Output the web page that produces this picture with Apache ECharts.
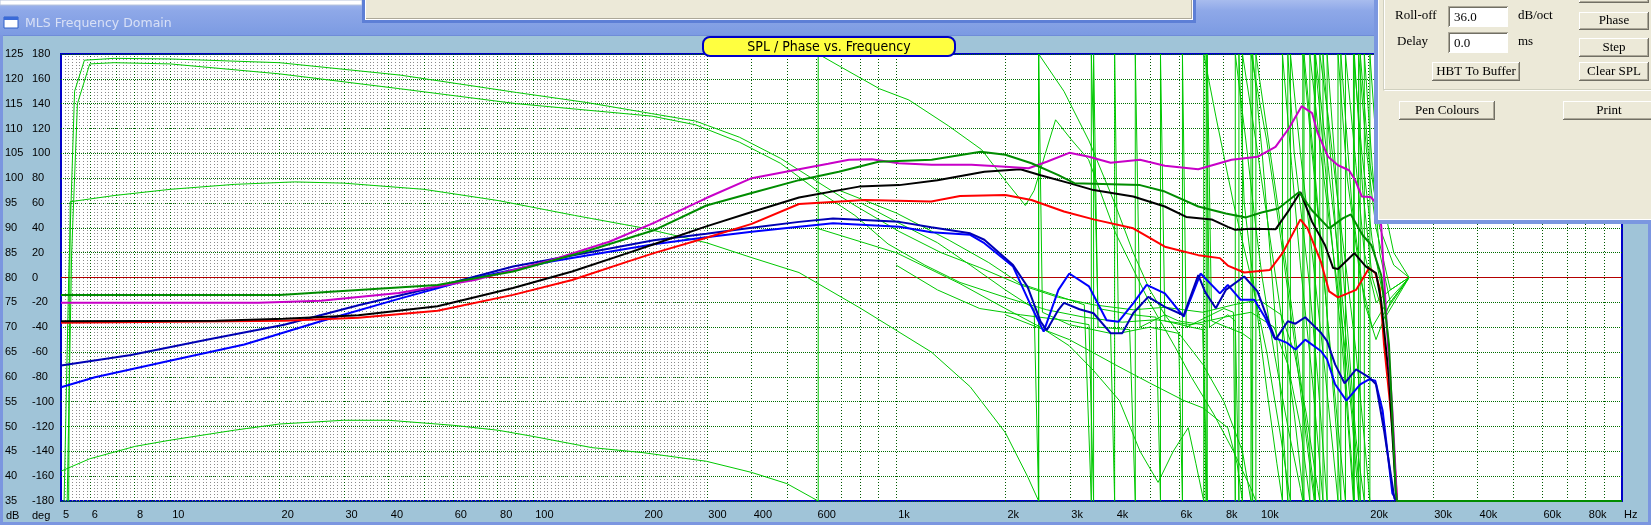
<!DOCTYPE html>
<html>
<head>
<meta charset="utf-8">
<script src="https://cdn.jsdelivr.net/npm/echarts@6/dist/echarts.min.js"></script>
<style>
html,body{margin:0;padding:0;background:#A0C4D8;}
#c{width:1651px;height:525px;}
</style>
</head>
<body>
<div id="c"></div>
<script>
// ---------- axis ticks ----------
const tickFreqs = [5,6,8,10,20,30,40,60,80,100,200,300,400,600,1000,2000,3000,4000,6000,8000,10000,20000,30000,40000,60000,80000,100000];
const tickLabels = ['5','6','8','10','20','30','40','60','80','100','200','300','400','600','1k','2k','3k','4k','6k','8k','10k','20k','30k','40k','60k','80k','Hz'];

// ---------- SPL curves [Hz, dB] ----------
const splMagenta = [[5,74.9],[10,74.9],[17.5,74.9],[26,75.3],[42.6,76.9],[69,79.5],[112,83.5],[162,87.2],[215,91],[300,96],[400,100],[540,101.8],[650,102.9],[741,103.7],[857,103.8],[1016,103],[1253,102.7],[1614,102.7],[2000,102.3],[2318,102],[2600,103.3],[3000,105.1],[3400,104.3],[3900,103.1],[4700,103.7],[4950,103.3],[5500,102.5],[6800,101.8],[8400,103.7],[9900,104.3],[11100,106.3],[12100,110.1],[13100,114.5],[14000,113.1],[14500,109.1],[15500,104.3],[16500,102.6],[17700,101.6],[18400,99.6],[19200,96.3],[20300,96.2],[21000,95],[21700,90.5],[22500,69.9],[23300,53.2],[24000,35],[100000,35]];
const splGreen = [[5,76.5],[20,76.5],[33,77.5],[54.5,78.5],[88,81.2],[143,85.5],[215,89.5],[300,94.5],[400,97],[540,99.6],[695,101.3],[895,103.3],[1253,103.7],[1710,105.3],[2000,104.7],[2360,103],[2800,100.6],[3100,99],[4700,98.6],[5500,97.3],[6800,94.3],[8100,92.9],[9200,92.1],[10160,93.1],[11300,93.9],[12900,97.2],[14000,93.5],[15600,89.9],[17000,91.9],[17900,92.7],[19300,88.5],[20400,86.5],[21700,80.5],[22800,66.5],[23800,37.2],[24000,35],[100000,35]];
const splBlack = [[5,71.2],[13.4,71.3],[20.6,71.7],[33,72.4],[54.5,74.2],[88,77.9],[128,81.2],[182,84.9],[215,86.7],[300,90.3],[400,93.2],[540,96.1],[790,98.3],[1020,98.6],[1300,99.6],[1750,101.3],[2200,101.8],[2500,100.6],[3000,99],[3500,97.6],[4500,96.3],[5500,94.3],[6300,92.2],[7400,91.7],[8200,90.2],[8600,89.6],[9500,89.8],[11100,89.7],[12000,93.2],[13000,97.2],[14000,91.2],[15200,86.5],[16000,81.9],[16500,81.7],[18300,84.9],[19700,82.2],[21000,80.9],[21700,75.2],[22800,59.9],[23800,37.2],[24000,35],[100000,35]];
const splRed = [[5,70.9],[20.6,71.3],[33,71.9],[54.5,73.3],[88,76.5],[128,79.5],[182,83.2],[215,84.9],[300,88],[400,90.8],[540,94.8],[820,95.6],[1250,95.3],[1500,96.4],[2000,96.6],[2360,95.6],[2900,93.3],[3500,91.7],[4500,89.9],[5500,86.2],[6800,84.5],[7800,83.9],[8200,82.4],[9100,81],[10700,81.5],[11600,84.9],[13000,91.7],[13600,89.9],[14800,83.2],[15600,77.2],[16500,76],[18500,77.5],[20100,81.9],[20900,80.9],[21500,77.9],[22100,66.5],[23300,49.9],[24000,35],[100000,35]];
const splNavy = [[5,62.3],[7.8,64.4],[12.7,67.5],[20.6,70.5],[33,74.4],[54.5,78.2],[88,82.2],[143,85.1],[215,87.5],[300,88.8],[400,90],[540,91.2],[670,91.9],[1020,91.2],[1250,90.1],[1600,88.9],[1750,87.6],[2100,82.5],[2300,78.2],[2500,71.1],[2600,69.4],[2800,73.5],[2900,74.9],[3200,73.6],[3500,72.8],[3900,68.8],[4200,68.8],[4500,72.8],[4950,76.1],[5500,74.1],[6200,72.4],[6800,80.5],[7100,77.1],[7600,73.8],[8100,77.5],[9100,80.2],[9900,77.2],[10700,70.5],[11100,67.5],[12000,71.2],[12600,70.7],[13400,72],[14800,68.9],[15400,67.2],[16200,62.5],[17200,58.7],[18500,61.5],[20100,59.9],[21000,58.5],[22100,49.2],[23600,35.5],[24000,35],[100000,35]];
const splBlue = [[5,57.9],[6.2,59.9],[9.9,63.2],[16,66.5],[26,71.2],[42.6,75.7],[69,79.9],[112,83.2],[162,85.2],[215,86.7],[300,88.1],[400,89.2],[540,90.2],[670,90.9],[1020,90.2],[1250,89.1],[1600,88.6],[1750,86.9],[2100,82.2],[2360,74.1],[2550,69.1],[2800,77.5],[3000,80.8],[3400,78.2],[3800,71.4],[4100,71.1],[4500,74.8],[4900,78.5],[5500,76.8],[6200,72.1],[6900,80.8],[7800,76.8],[8200,78.5],[8900,75.5],[9700,75.5],[10400,71.9],[11000,67.9],[11900,66.9],[12600,65.5],[13400,67.5],[14800,65.2],[15400,63.5],[16200,58.5],[17400,55.2],[19000,58.5],[20100,59.5],[20900,59.2],[21900,53.2],[23300,36.5],[24000,35],[100000,35]];

// ---------- Phase curves [Hz, deg] ----------
const phaseA = [[5.1,-180],[5.25,0],[5.45,150],[5.8,175],[7,176.5],[10,176],[20,173],[43,163],[90,149],[140,141],[212,132],[280,126],[370,113],[480,96],[600,78],[770,58],[1020,37],[1330,20],[1700,8],[2200,-6],[2800,-16],[3500,-22],[4500,-26],[5500,-24],[7000,-28],[8500,-22],[10000,-18],[11500,-30],[12500,-60],[13500,-110],[14500,-170],[14700,-180],[14700,180],[15500,130],[16500,60],[17500,0],[18500,-60],[19500,-130],[20200,-180],[20200,180],[21000,110],[22000,60],[23500,20],[25900,0]];
const phaseB = [[5.2,-180],[5.35,20],[5.55,140],[6,172],[7,173],[10,172],[20,164],[43,152],[90,140],[212,130],[280,123],[370,109],[480,92],[600,71],[770,50],[950,27],[1200,10],[1500,-4],[2000,-16],[2600,-26],[3300,-32],[4200,-36],[5200,-34],[6500,-38],[8000,-32],[9500,-28],[11000,-40],[12000,-70],[13000,-120],[13800,-180],[13800,180],[14800,100],[16000,20],[17000,-40],[18000,-110],[18800,-180],[18800,180],[19800,100],[21000,40],[23000,-10],[25900,0]];
const phaseC = [[5.25,-180],[5.3,61],[7,66],[10,71],[15,75],[22,77],[30,76],[50,71],[80,62],[130,50],[200,40],[300,28],[400,16],[540,4],[800,-25],[1250,-60],[1600,-88],[2000,-125],[2300,-160],[2470,-180],[2470,180],[2900,150],[3400,110],[4000,60],[4500,20],[5000,-10],[5500,-30],[6200,-50],[7000,-70],[8000,-100],[9000,-140],[9500,-180],[9500,180],[10500,110],[11500,30],[12500,-50],[13500,-130],[14200,-180],[14200,180],[15200,90],[16000,20],[17000,-60],[17800,-140],[18200,-180],[18200,180],[19200,100],[20500,30],[22500,-30],[25900,0]];
const phaseD = [[5,-156],[6,-146],[8,-136],[10,-131],[15,-123],[20,-118],[30,-115],[40,-115],[60,-119],[80,-123],[100,-128],[145,-137],[200,-141],[300,-148],[400,-157],[500,-166],[610,-180],[610,180],[700,170],[900,152],[1084,143],[1396,122],[1720,103],[2000,78],[2270,58],[2400,70],[2750,127],[3040,111],[3390,95],[4020,36],[4950,-18],[5870,-56],[6500,-80],[7500,-110],[8500,-140],[9500,-170],[9800,-180],[9800,180],[10500,120],[11500,40],[12500,-40],[13500,-120],[14300,-180],[14300,180],[15500,90],[16500,20],[17500,-60],[18500,-140],[19000,-180],[19000,180],[20000,100],[21500,40],[23500,10],[25900,0]];
const phaseE = [[600,40],[1000,20],[1500,-5],[2000,-25],[2500,-40],[3000,-55],[3500,-75],[4120,-99],[4700,-140],[5270,-165],[5800,-140],[6380,-121],[6700,-150],[7040,-180],[7040,180],[7600,130],[8500,60],[9500,0],[10500,-60],[11500,-130],[12200,-180],[12200,180],[13000,100],[14000,20],[15000,-60],[16000,-140],[16500,-180],[16500,180],[17500,80],[19000,0],[20500,-40],[22500,-20],[25900,0]];
const phaseG = [[700,70],[1000,52],[1400,30],[1800,12],[2200,-5],[2800,-15],[3300,-22],[3450,-180],[3450,180],[3600,-25],[4500,-30],[5200,-32],[5350,-180],[5350,180],[5500,-35],[6500,-40],[7000,-42],[7150,-180],[7150,180],[7300,-40],[8200,-30],[8600,-35],[8800,-180],[8800,180],[9100,60],[9800,-20],[10500,-90],[11200,-150],[11600,-180],[11600,180],[12300,90],[13000,10],[14000,-80],[14800,-160],[15000,-180],[15000,180],[15900,80],[16800,-20],[17700,-120],[18300,-180],[18300,180],[19300,70],[20500,0],[22000,-30],[25900,0]];
const phaseH = [[800,60],[1000,45],[1300,28],[1600,10],[2000,-10],[2400,-25],[2470,-180],[2470,180],[2530,-28],[3000,-38],[3900,-45],[4000,-180],[4000,180],[4100,-45],[5000,-40],[6000,-45],[6150,-180],[6150,180],[6300,-40],[8000,-25],[8500,-28],[8600,-180],[8600,180],[9200,110],[9800,40],[10200,0],[11000,-60],[12000,-120],[13000,-170],[13200,-180],[13200,180],[14000,100],[15000,10],[15400,-30],[16500,-120],[17300,-180],[17300,180],[18500,90],[19500,20],[21000,-20],[23000,-10],[25900,0]];
const phaseI = [[1000,10],[1300,-10],[1700,-25],[2200,-30],[3000,-35],[3400,-38],[3500,-180],[3500,180],[3600,-40],[4400,-42],[4560,-180],[4560,180],[4700,-40],[5500,-30],[6000,-35],[7000,-38],[7200,-180],[7200,180],[7400,-35],[9000,-45],[9500,-50],[9600,-180],[9600,180],[10200,100],[11000,-20],[11500,-100],[12000,-180],[12000,180],[12500,100],[13700,0],[14500,-80],[15400,-180],[15400,180],[16500,60],[17500,-40],[18500,-130],[19500,-180],[19500,180],[20500,90],[21500,20],[23000,-20],[25900,0]];
const phaseJ = [[2000,-30],[3000,-50],[4000,-70],[5000,-85],[6200,-99],[7000,-105],[8200,-121],[8700,-150],[9000,-180],[9000,180],[9800,110],[10500,50],[11500,-30],[12500,-110],[13300,-180],[13300,180],[14300,80],[15300,-20],[16300,-120],[16800,-180],[16800,180],[18000,60],[19500,-20],[21000,-50],[23000,-20],[25900,0]];

const phaseCurves = [phaseA, phaseB, phaseC, phaseD, phaseE, phaseG, phaseH, phaseI, phaseJ];
const splCurves = [
  {data: splBlue,    color: '#0000FF'},
  {data: splNavy,    color: '#0000B4'},
  {data: splRed,     color: '#FF0000'},
  {data: splBlack,   color: '#000000'},
  {data: splMagenta, color: '#C800C8'},
  {data: splGreen,   color: '#008C00'}
];

// ---------- helpers ----------
const L = Math.log10;
const toXY = arr => arr.map(p => [L(p[0]), p[1]]);

// grid lines (texture + decade lines)
const majorGrid = [];
for (let k = 0; k <= 4; k++) for (let m = 1; m <= 9; m++) {
  const f = m * Math.pow(10, k);
  if (f > 5 && f < 100000) majorGrid.push(L(f));
}
const minorGrid = [];
for (let v = L(5) + 1/130; v <= L(300); v += 1/130) minorGrid.push(v);

const markData = [].concat(
  minorGrid.map(v => ({xAxis: v, lineStyle: {color: '#8C8C8C', type: [1, 2], width: 1}})),
  majorGrid.map(v => ({xAxis: v, lineStyle: {color: '#005A00', type: [1, 2], width: 1}})),
  [{yAxis: 0, lineStyle: {color: '#B40000', type: 'solid', width: 1}}]
);

const series = [];
phaseCurves.forEach((pc, i) => {
  const s = {
    type: 'line', data: toXY(pc), yAxisIndex: 1, showSymbol: false, symbol: 'none',
    lineStyle: {color: '#00C800', width: 1}, itemStyle: {color: '#00C800'},
    z: 10, silent: true, animation: false
  };
  if (i === 0) {
    s.markLine = {silent: true, symbol: ['none', 'none'], label: {show: false}, animation: false,
      emphasis: {disabled: true}, data: markData};
  }
  series.push(s);
});
splCurves.forEach(c => {
  series.push({
    type: 'line', data: toXY(c.data), yAxisIndex: 0, showSymbol: false, symbol: 'none',
    lineStyle: {color: c.color, width: 2}, itemStyle: {color: c.color},
    z: 11, silent: true, animation: false
  });
});

// ---------- window decorations ----------
const G = [];
function rect(x, y, w, h, fill, z, extra) {
  const e = {type: 'rect', shape: {x: x, y: y, width: w, height: h}, style: {fill: fill}, z: z || 0, silent: true};
  if (extra) { if (extra.r) e.shape.r = extra.r; if (extra.stroke) { e.style.stroke = extra.stroke; e.style.lineWidth = extra.lw || 1; } }
  G.push(e);
}
function text(x, y, s, font, fill, align, z) {
  G.push({type: 'text', x: x, y: y, z: z || 0, silent: true,
    style: {text: s, font: font, fill: fill || '#000', align: align || 'left', verticalAlign: 'middle'}});
}
function line(x1, y1, x2, y2, stroke, z) {
  G.push({type: 'line', shape: {x1: x1, y1: y1, x2: x2, y2: y2}, style: {stroke: stroke, lineWidth: 1}, z: z || 0, silent: true});
}
const serif = '13px "Liberation Serif", "Times New Roman", serif';
function button(x, y, w, h, label, z) {
  rect(x, y, w, h, '#716F64', z);
  rect(x, y, w - 1, h - 1, '#FFFFFF', z);
  rect(x + 1, y + 1, w - 2, h - 2, '#ACA899', z);
  rect(x + 1, y + 1, w - 3, h - 3, '#ECE9D8', z);
  if (label) text(x + w / 2, y + h / 2, label, serif, '#000', 'center', z);
}
function textbox(x, y, w, h, val, z) {
  rect(x, y, w, h, '#ACA899', z);
  rect(x + 1, y + 1, w - 1, h - 1, '#FFFFFF', z);
  rect(x + 1, y + 1, w - 2, h - 2, '#716F64', z);
  rect(x + 2, y + 2, w - 3, h - 3, '#FFFFFF', z);
  text(x + 6, y + h / 2 + 1, val, serif, '#000', 'left', z);
}

// title bar
G.push({type: 'rect', shape: {x: 0, y: 0, width: 1651, height: 36}, silent: true, z: 0,
  style: {fill: new echarts.graphic.LinearGradient(0, 0, 0, 1, [{offset: 0, color: '#A8BCEE'}, {offset: 0.3, color: '#8EA8E8'}, {offset: 1, color: '#7B9AE2'}])}});
rect(0, 35, 1651, 1, '#6F8CD8', 0);
// frame
rect(0, 35, 3, 490, '#7B96E0', 0);
rect(1648, 35, 3, 490, '#7B96E0', 0);
rect(0, 522, 1651, 3, '#7B96E0', 0);
// white strip of window above
rect(0, 0, 362, 5, '#FFFFFF', 0, {stroke: '#B8C4DC'});
// beige dialog at top
rect(362, 0, 834, 23, '#5D7FD6', 0);
rect(365, 0, 828, 20, '#FFFFFF', 0);
rect(366, 0, 826, 19, '#ACA899', 0);
rect(366, 0, 825, 18, '#ECE9D8', 0);
// icon + title
rect(4, 17, 14, 11, '#FFFFFF', 0, {stroke: '#3060C8'});
rect(4, 17, 14, 3, '#3A6AD8', 0);
text(25, 24, 'MLS Frequency Domain', '12.5px "DejaVu Sans", Tahoma, sans-serif', '#D8E0F6', 'left', 0);
// axis unit labels
text(6, 516, 'dB', '11px "Liberation Sans", Arial, sans-serif', '#000', 'left', 0);
text(32, 516, 'deg', '11px "Liberation Sans", Arial, sans-serif', '#000', 'left', 0);

// chart tag
rect(703, 37, 252, 19, '#FFFF40', 100, {r: 7, stroke: '#0000C8', lw: 2});
text(829, 47, 'SPL / Phase vs. Frequency', '14px "Liberation Sans Narrow", "DejaVu Sans Condensed", sans-serif', '#000', 'center', 101);

// right control panel
const PZ = 100;
rect(1374, 0, 277, 224, '#7B97E0', PZ);
rect(1378, 0, 273, 220, '#FFFFFF', PZ);
rect(1379, 0, 272, 219, '#ECE9D8', PZ);
line(1383.5, 0, 1383.5, 90.5, '#D0D0BF', PZ);
line(1384.5, 0, 1384.5, 89.5, '#FFFFFF', PZ);
line(1383.5, 89.5, 1651, 89.5, '#D0D0BF', PZ);
line(1384.5, 90.5, 1651, 90.5, '#FFFFFF', PZ);
text(1395, 16, 'Roll-off', serif, '#000', 'left', PZ);
textbox(1448, 6, 60, 21, '36.0', PZ);
text(1518, 16, 'dB/oct', serif, '#000', 'left', PZ);
text(1397, 42, 'Delay', serif, '#000', 'left', PZ);
textbox(1448, 32, 60, 21, '0.0', PZ);
text(1518, 42, 'ms', serif, '#000', 'left', PZ);
button(1432, 62, 88, 19, 'HBT To Buffer', PZ);
button(1579, -16, 70, 19, '', PZ);
button(1579, 12, 70, 18, 'Phase', PZ);
button(1579, 38, 70, 19, 'Step', PZ);
button(1579, 62, 70, 19, 'Clear SPL', PZ);
button(1399, 101, 96, 19, 'Pen Colours', PZ);
button(1563, 101, 92, 19, 'Print', PZ);

// ---------- chart ----------
const chart = echarts.init(document.getElementById('c'), null, {renderer: 'canvas'});
const labFont = {fontSize: 11, fontFamily: '"Liberation Sans", Arial, sans-serif', color: '#000'};
chart.setOption({
  backgroundColor: '#A0C4D8',
  animation: false,
  grid: {left: 61, top: 54, width: 1561, height: 447, show: true, backgroundColor: '#FFFFFF',
    borderColor: '#0000C8', borderWidth: 2, containLabel: false},
  xAxis: {
    type: 'value', min: L(5), max: 5,
    axisLine: {show: false}, axisTick: {show: false}, splitLine: {show: false},
    axisLabel: Object.assign({
      customValues: tickFreqs.map(L), showMinLabel: true, showMaxLabel: true, hideOverlap: false,
      align: 'left', verticalAlign: 'middle', margin: 14, padding: [0, 0, 0, 2],
      formatter: function (v) {
        for (let i = 0; i < tickFreqs.length; i++) if (Math.abs(L(tickFreqs[i]) - v) < 1e-6) return tickLabels[i];
        return '';
      }
    }, labFont)
  },
  yAxis: [
    {type: 'value', min: 35, max: 125, interval: 5, position: 'left',
      axisLine: {show: false}, axisTick: {show: false},
      axisLabel: Object.assign({align: 'left', margin: 56}, labFont),
      splitLine: {show: true, lineStyle: {color: '#006E00', type: [1, 1], width: 1}}},
    {type: 'value', min: -180, max: 180, interval: 20, position: 'left', offset: 0,
      axisLine: {show: false}, axisTick: {show: false},
      axisLabel: Object.assign({align: 'left', margin: 29}, labFont),
      splitLine: {show: false}}
  ],
  graphic: {elements: G},
  series: series
});
</script>
</body>
</html>
